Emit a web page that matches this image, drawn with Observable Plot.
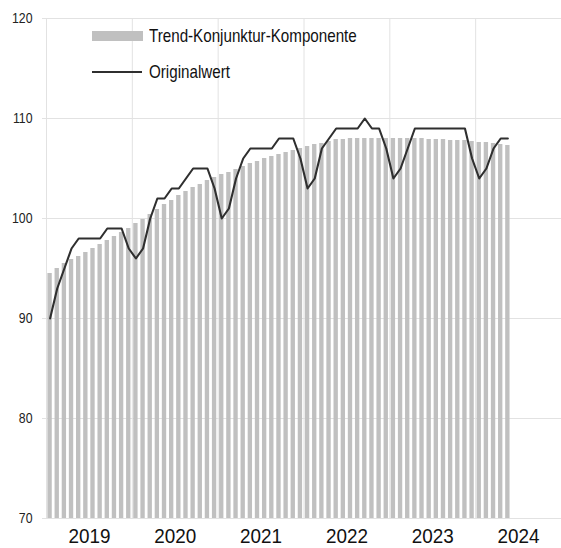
<!DOCTYPE html>
<html><head><meta charset="utf-8">
<script src="https://cdn.jsdelivr.net/npm/d3@7"></script>
<script src="https://cdn.jsdelivr.net/npm/@observablehq/plot@0.6"></script>
<style>
body{margin:0;background:#fff;}
#wrap{position:relative;width:561px;height:548px;font-family:"Liberation Sans",Arial,sans-serif;}
.leg{position:absolute;left:92px;display:flex;align-items:center;font-size:18.5px;line-height:20px;color:#111;}
.sw{width:51px;height:10px;background:#c0c0c0;margin-right:6px;}
.ln{width:50px;height:2px;background:#2f2f2f;margin-right:7px;}
.tx{display:inline-block;transform:scaleX(0.82);transform-origin:left center;white-space:nowrap;}
</style></head>
<body>
<div id="wrap">
  <div class="leg" style="top:26px"><span class="sw"></span><span class="tx">Trend-Konjunktur-Komponente</span></div>
  <div class="leg" style="top:62px"><span class="ln"></span><span class="tx">Originalwert</span></div>
</div>
<script>
const years = ["2019","2020","2021","2022","2023","2024"];
const yTicks = [70, 80, 90, 100, 110, 120];
const trend = [
  94.5, 95.0, 95.5, 95.9, 96.2, 96.6, 97.0, 97.4, 97.8, 98.2, 98.6, 99.0,
  99.5, 99.9, 100.4, 100.9, 101.4, 101.8, 102.3, 102.7, 103.1, 103.4, 103.8, 104.1,
  104.4, 104.6, 104.9, 105.2, 105.5, 105.7, 106.0, 106.2, 106.4, 106.6, 106.8, 107.0,
  107.2, 107.4, 107.5, 107.7, 107.9, 107.9, 108.0, 108.0, 108.0, 108.0, 108.0, 108.0,
  108.0, 108.0, 108.0, 108.0, 108.0, 107.9, 107.9, 107.9, 107.8, 107.8, 107.8, 107.7,
  107.6, 107.6, 107.5, 107.4, 107.3
];
const original = [
  90, 93, 95, 97, 98, 98, 98, 98, 99, 99, 99, 97,
  96, 97, 100, 102, 102, 103, 103, 104, 105, 105, 105, 103,
  100, 101, 104, 106, 107, 107, 107, 107, 108, 108, 108, 106,
  103, 104, 107, 108, 109, 109, 109, 109, 110, 109, 109, 107,
  104, 105, 107, 109, 109, 109, 109, 109, 109, 109, 109, 106,
  104, 105, 107, 108, 108
];

const nMonths = years.length * 12;
const yearStarts = years.map((y, k) => k * 12);
const yearMids = years.map((y, k) => k * 12 + 6);
const yMin = yTicks[0], yMax = yTicks[yTicks.length - 1];
const grid = "#e2e2e2";
const font = '"Liberation Sans",Arial,sans-serif';

const chart = Plot.plot({
  width: 561,
  height: 548,
  marginTop: 18,
  marginBottom: 30,
  marginLeft: 46,
  marginRight: 0,
  style: {fontFamily: font, background: "white", color: "#222"},
  x: {domain: [0, nMonths]},
  y: {domain: [yMin, yMax]},
  marks: [
    Plot.gridY({ticks: yTicks, stroke: grid, strokeOpacity: 1}),
    Plot.ruleX(yearStarts, {stroke: grid}),
    Plot.axisY({ticks: yTicks, tickSize: 4, tickPadding: 10, stroke: grid, fill: "#222", fontSize: 15, label: null}),
    Plot.rectY(trend, {x1: (d, i) => i, x2: (d, i) => i + 1, y1: yMin, y2: d => d, insetLeft: 1.4, insetRight: 1.4, fill: "#c0c0c0"}),
    Plot.lineY(original, {x: (d, i) => i + 0.5, y: d => d, stroke: "#2f2f2f", strokeWidth: 2.1}),
    Plot.axisX({ticks: yearMids, tickFormat: (d) => years[(d - 6) / 12], tickSize: 0, tickPadding: 10, fontSize: 21, fill: "#111", label: null})
  ]
});
document.getElementById("wrap").prepend(chart);
// condense axis labels horizontally (narrow typeface look), keeping their anchor point
function condense(sel, k) {
  chart.querySelectorAll(sel).forEach(t => {
    const b = t.getBBox();
    const anchor = t.getAttribute("text-anchor") || t.parentNode.getAttribute("text-anchor") || "middle";
    const cx = anchor === "end" ? b.x + b.width : anchor === "start" ? b.x : b.x + b.width / 2;
    const prev = t.getAttribute("transform") || "";
    t.setAttribute("transform", `${prev} translate(${cx} 0) scale(${k} 1) translate(${-cx} 0)`.trim());
  });
}
condense('g[aria-label="y-axis tick label"] text', 0.82);
condense('g[aria-label="x-axis tick label"] text', 0.9);
</script>
</body></html>
